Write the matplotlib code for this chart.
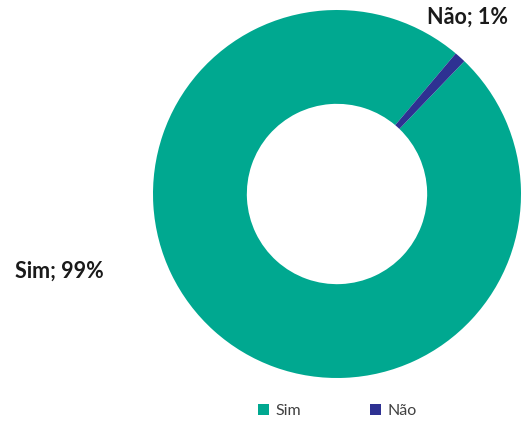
import matplotlib
matplotlib.use("Agg")
import matplotlib.pyplot as plt

labels = ["Sim", "Não"]
values = [99, 1]
colors = ["#00A890", "#2E3192"]

plt.rcParams['font.family'] = ['Lato', 'DejaVu Sans']

fig = plt.figure(figsize=(5.22, 4.23), dpi=100)
# axes placed so the donut sits where it does in the reference
cx, cy, r = 337, 194, 184
W, H = 522, 423
ax = fig.add_axes([(cx - r) / W, (H - cy - r) / H, 2 * r / W, 2 * r / H])

wedges, _ = ax.pie(values, colors=colors, startangle=46.2, counterclock=False,
                   radius=1, wedgeprops=dict(width=0.51, edgecolor='none'))
ax.set_xlim(-1, 1)
ax.set_ylim(-1, 1)
ax.set_aspect('equal')
ax.axis('off')

total = sum(values)
label_pos = [(-1.51, -0.42), (0.71, 0.96)]
for lab, v, (x, y) in zip(labels, values, label_pos):
    ax.text(x, y, f"{lab}; {round(100 * v / total)}%", ha='center', va='center',
            fontsize=15.5, fontweight='bold', color='#1a1a1a', clip_on=False)

fig.legend(wedges, labels, loc='center', bbox_to_anchor=(337 / W, 1 - 411 / H),
           ncol=2, frameon=False, fontsize=11.5, handlelength=0.7, handleheight=0.7,
           handletextpad=0.4, columnspacing=4.3, labelcolor='#404040')

fig.savefig("out.png", dpi=100)
